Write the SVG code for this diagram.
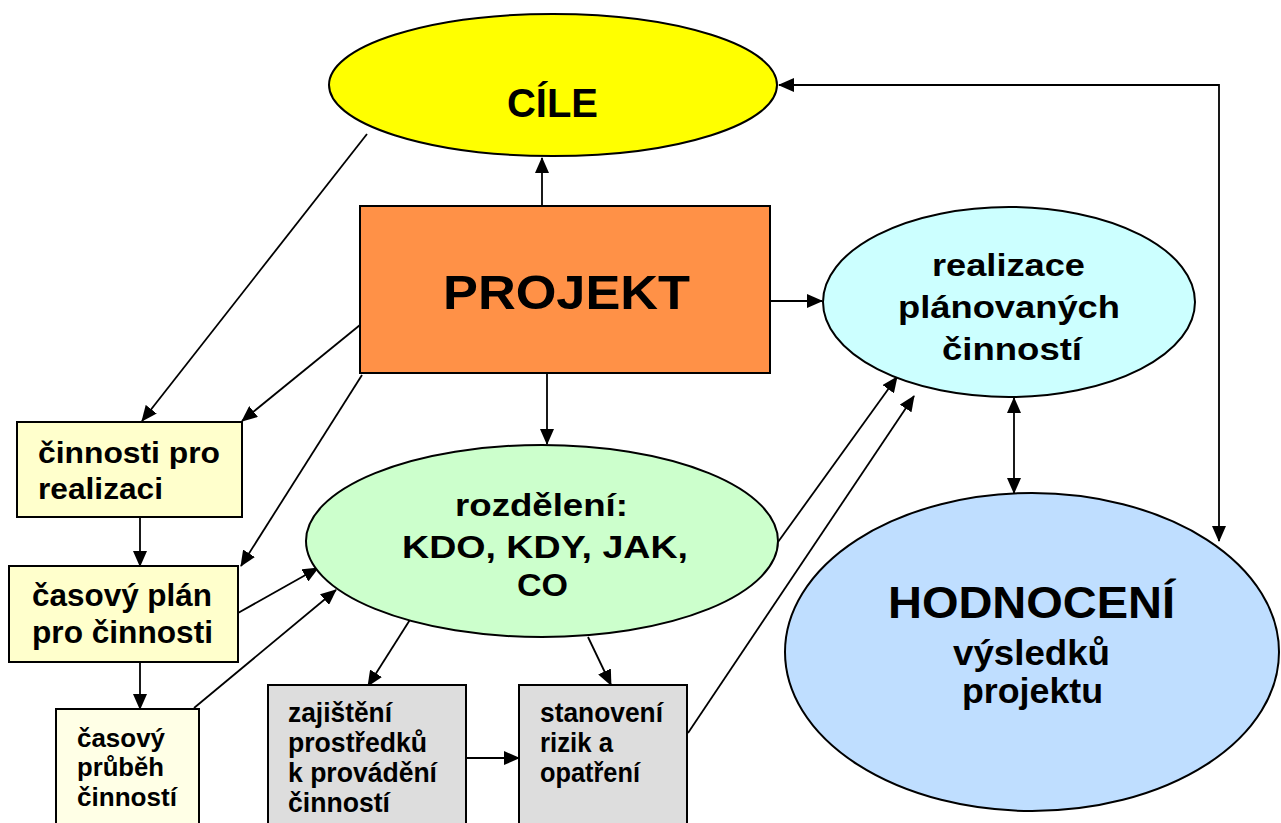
<svg xmlns="http://www.w3.org/2000/svg" width="1281" height="823" viewBox="0 0 1281 823">
<style>
.shape{stroke:#000;stroke-width:2}
.t{font-family:"Liberation Sans",Arial,sans-serif;font-weight:bold;fill:#000}
.c{fill:none;stroke:#000;stroke-width:1.8}
</style>
<defs>
<marker id="ah" markerUnits="userSpaceOnUse" markerWidth="16" markerHeight="14" refX="15" refY="7" orient="auto-start-reverse" viewBox="0 0 16 14">
<path d="M0,0 L16,7 L0,14 z" fill="#000"/>
</marker>
</defs>
<rect width="1281" height="823" fill="#fff"/>

<g id="connectors">
<path class="c" d="M542,206 L542,158" marker-end="url(#ah)"/>
<path class="c" d="M770,301 L822,301" marker-end="url(#ah)"/>
<path class="c" d="M547,373 L547,444" marker-end="url(#ah)"/>
<path class="c" d="M1219,541 L1219,85 L779,85" marker-start="url(#ah)" marker-end="url(#ah)"/>
<path class="c" d="M1014,398 L1014,493" marker-start="url(#ah)" marker-end="url(#ah)"/>
<path class="c" d="M367,134 L142,421" marker-end="url(#ah)"/>
<path class="c" d="M360,325 L242,421" marker-end="url(#ah)"/>
<path class="c" d="M362,375 L241,566" marker-end="url(#ah)"/>
<path class="c" d="M238,613 L318,568" marker-end="url(#ah)"/>
<path class="c" d="M194,708 L336,590" marker-end="url(#ah)"/>
<path class="c" d="M140,517 L140,566" marker-end="url(#ah)"/>
<path class="c" d="M140,662 L140,709" marker-end="url(#ah)"/>
<path class="c" d="M413,615 L368,686" marker-end="url(#ah)"/>
<path class="c" d="M588,637 L611,685" marker-end="url(#ah)"/>
<path class="c" d="M466,758 L519,758" marker-end="url(#ah)"/>
<path class="c" d="M778,542 L897,377" marker-end="url(#ah)"/>
<path class="c" d="M688,733 L914,396" marker-end="url(#ah)"/>
</g>

<g id="cile">
<ellipse class="shape" cx="553" cy="85" rx="224" ry="71" fill="#FFFF00"/>
<text class="t" x="507" y="117" font-size="41" textLength="91" lengthAdjust="spacingAndGlyphs">CÍLE</text>
</g>

<g id="projekt">
<rect class="shape" x="360" y="206" width="410" height="167" fill="#FF9147"/>
<text class="t" x="443" y="309" font-size="48" textLength="247" lengthAdjust="spacingAndGlyphs">PROJEKT</text>
</g>

<g id="realizace">
<ellipse class="shape" cx="1009" cy="302" rx="186" ry="95" fill="#CCFFFF"/>
<text class="t" x="932" y="276" font-size="32" textLength="153" lengthAdjust="spacingAndGlyphs">realizace</text>
<text class="t" x="898" y="318" font-size="32" textLength="222" lengthAdjust="spacingAndGlyphs">plánovaných</text>
<text class="t" x="942" y="360" font-size="32" textLength="140" lengthAdjust="spacingAndGlyphs">činností</text>
</g>

<g id="hodnoceni">
<ellipse class="shape" cx="1032" cy="652" rx="247" ry="159" fill="#BFDEFF"/>
<text class="t" x="888" y="618" font-size="45" textLength="287" lengthAdjust="spacingAndGlyphs">HODNOCENÍ</text>
<text class="t" x="953" y="665" font-size="35" textLength="157" lengthAdjust="spacingAndGlyphs">výsledků</text>
<text class="t" x="962" y="703" font-size="35" textLength="141" lengthAdjust="spacingAndGlyphs">projektu</text>
</g>

<g id="rozdeleni">
<ellipse class="shape" cx="542" cy="541" rx="236" ry="96" fill="#CCFFCC"/>
<text class="t" x="455" y="516" font-size="32" textLength="173" lengthAdjust="spacingAndGlyphs">rozdělení:</text>
<text class="t" x="402" y="558" font-size="32" textLength="286" lengthAdjust="spacingAndGlyphs">KDO, KDY, JAK,</text>
<text class="t" x="517" y="596" font-size="32" textLength="51" lengthAdjust="spacingAndGlyphs">CO</text>
</g>

<g id="cinnosti-pro-realizaci">
<rect class="shape" x="17" y="422" width="225" height="95" fill="#FFFFCC"/>
<text class="t" x="38" y="463" font-size="30" textLength="182" lengthAdjust="spacingAndGlyphs">činnosti pro</text>
<text class="t" x="38" y="499" font-size="30" textLength="125" lengthAdjust="spacingAndGlyphs">realizaci</text>
</g>

<g id="casovy-plan">
<rect class="shape" x="9" y="566" width="229" height="96" fill="#FFFFCC"/>
<text class="t" x="32" y="606" font-size="31" textLength="180" lengthAdjust="spacingAndGlyphs">časový plán</text>
<text class="t" x="32" y="643" font-size="31" textLength="181" lengthAdjust="spacingAndGlyphs">pro činnosti</text>
</g>

<g id="casovy-prubeh">
<rect class="shape" x="56" y="709" width="143" height="130" fill="#FFFFE6"/>
<text class="t" x="77" y="747" font-size="25" textLength="88" lengthAdjust="spacingAndGlyphs">časový</text>
<text class="t" x="77" y="776" font-size="25" textLength="87" lengthAdjust="spacingAndGlyphs">průběh</text>
<text class="t" x="77" y="806" font-size="25" textLength="100" lengthAdjust="spacingAndGlyphs">činností</text>
</g>

<g id="zajisteni">
<rect class="shape" x="268" y="685" width="198" height="150" fill="#DDDDDD"/>
<text class="t" x="288" y="722" font-size="27" textLength="104" lengthAdjust="spacingAndGlyphs">zajištění</text>
<text class="t" x="288" y="752" font-size="27" textLength="139" lengthAdjust="spacingAndGlyphs">prostředků</text>
<text class="t" x="288" y="782" font-size="27" textLength="149" lengthAdjust="spacingAndGlyphs">k provádění</text>
<text class="t" x="288" y="812" font-size="27" textLength="102" lengthAdjust="spacingAndGlyphs">činností</text>
</g>

<g id="stanoveni">
<rect class="shape" x="519" y="685" width="168" height="150" fill="#DDDDDD"/>
<text class="t" x="540" y="722" font-size="27" textLength="123" lengthAdjust="spacingAndGlyphs">stanovení</text>
<text class="t" x="540" y="752" font-size="27" textLength="73" lengthAdjust="spacingAndGlyphs">rizik a</text>
<text class="t" x="540" y="782" font-size="27" textLength="100" lengthAdjust="spacingAndGlyphs">opatření</text>
</g>
</svg>
